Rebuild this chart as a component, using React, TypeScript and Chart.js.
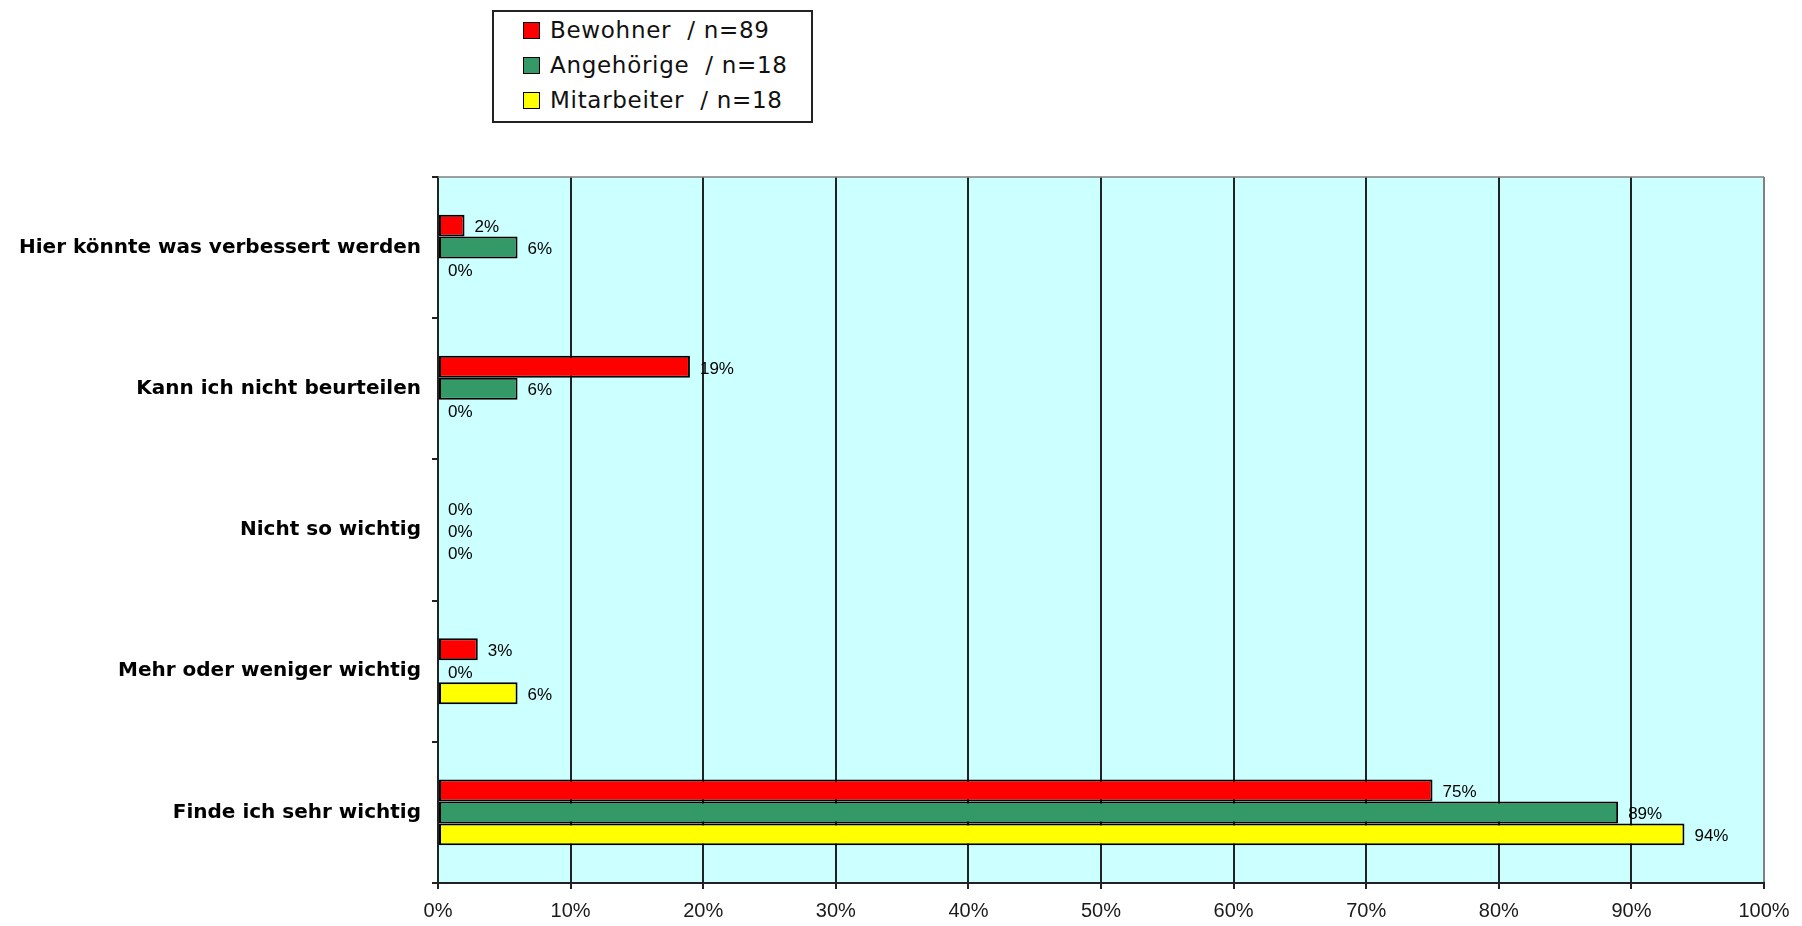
import React, { useEffect, useRef } from "react";
import { Chart, registerables } from "chart.js";

Chart.register(...registerables);

const categories = [
  "Hier könnte was verbessert werden",
  "Kann ich nicht beurteilen",
  "Nicht so wichtig",
  "Mehr oder weniger wichtig",
  "Finde ich sehr wichtig",
];
const seriesLabels = ["Bewohner  / n=89", "Angehörige  / n=18", "Mitarbeiter  / n=18"];
const bewohner = [2, 19, 0, 3, 75];
const angehoerige = [6, 6, 0, 0, 89];
const mitarbeiter = [0, 0, 0, 6, 94];
const seriesColors = ["#FF0000", "#339966", "#FFFF00"];
const xMin = 0;
const xMax = 100;
const xStep = 10;

const plotBgPlugin = {
  id: "plotBg",
  beforeDraw(chart: any) {
    const { ctx, chartArea: a } = chart;
    ctx.save();
    ctx.fillStyle = "#CCFFFF";
    ctx.fillRect(a.left, a.top, a.right - a.left, a.bottom - a.top);
    ctx.restore();
  },
  afterDraw(chart: any) {
    const { ctx, chartArea: a } = chart;
    ctx.save();
    ctx.strokeStyle = "#808080";
    ctx.lineWidth = 1.5;
    ctx.beginPath();
    ctx.moveTo(a.left, a.top);
    ctx.lineTo(a.right, a.top);
    ctx.stroke();
    ctx.restore();
  },
};

const valueLabelPlugin = {
  id: "valueLabels",
  afterDatasetsDraw(chart: any) {
    const { ctx } = chart;
    ctx.save();
    ctx.font = "17px 'Liberation Sans', Arial, sans-serif";
    ctx.fillStyle = "#000";
    ctx.textAlign = "left";
    ctx.textBaseline = "middle";
    chart.data.datasets.forEach((ds: any, di: number) => {
      const meta = chart.getDatasetMeta(di);
      meta.data.forEach((el: any, i: number) => {
        const v = ds.data[i];
        ctx.fillText(`${v}%`, el.x + 10, el.y + 2);
      });
    });
    ctx.restore();
  },
};

export default function App() {
  const canvasRef = useRef<HTMLCanvasElement | null>(null);

  useEffect(() => {
    if (!canvasRef.current) return;
    const chart = new Chart(canvasRef.current, {
      type: "bar",
      data: {
        labels: categories,
        datasets: [bewohner, angehoerige, mitarbeiter].map((d, i) => ({
          label: seriesLabels[i],
          data: d,
          backgroundColor: seriesColors[i],
          borderColor: "#000",
          borderWidth: 2,
          borderSkipped: false,
          categoryPercentage: 0.467,
          barPercentage: 1.0,
        })),
      },
      options: {
        indexAxis: "y",
        responsive: false,
        animation: false,
        layout: { padding: { top: 177, right: 38, bottom: 0, left: 0 } },
        plugins: {
          legend: { display: false },
          tooltip: { enabled: false },
        },
        scales: {
          x: {
            min: xMin,
            max: xMax,
            ticks: {
              stepSize: xStep,
              callback: (v: any) => `${v}%`,
              color: "#1a1a1a",
              font: { family: "'Liberation Sans', Arial, sans-serif", size: 20 },
              padding: 10,
              maxRotation: 0,
            },
            grid: {
              color: (c: any) => (c.tick && c.tick.value === xMax ? "#808080" : "#222"),
              lineWidth: 2,
              tickLength: 6,
              tickColor: "#222",
            },
            border: { color: "#222", width: 2 },
            afterFit(scale: any) {
              scale.height = 43;
            },
          },
          y: {
            grid: {
              drawOnChartArea: false,
              drawTicks: true,
              tickLength: 6,
              color: "#222",
              lineWidth: 2,
              offset: true,
            },
            border: { color: "#222", width: 2 },
            ticks: {
              color: "#000",
              font: { family: "'DejaVu Sans', sans-serif", size: 20, weight: "bold" },
              padding: 11,
            },
            afterFit(scale: any) {
              scale.width = 438;
            },
          },
        },
      },
      plugins: [plotBgPlugin, valueLabelPlugin],
    } as any);
    return () => chart.destroy();
  }, []);

  const rowTops = [30, 65, 100];

  return (
    <div style={{ position: "fixed", left: 0, top: 0, width: 1802, height: 926, background: "#fff" }}>
      <canvas ref={canvasRef} width={1802} height={926} style={{ display: "block", width: 1802, height: 926 }} />
      <div
        style={{
          position: "absolute",
          left: 492,
          top: 10,
          width: 321,
          height: 113,
          boxSizing: "border-box",
          border: "2px solid #222",
          background: "#fff",
        }}
      />
      {seriesLabels.map((lab, i) => (
        <div key={lab} style={{ position: "absolute", left: 523, top: rowTops[i] - 14, height: 28, display: "flex", alignItems: "center" }}>
          <span
            style={{
              display: "inline-block",
              width: 17,
              height: 17,
              boxSizing: "border-box",
              border: "1.5px solid #000",
              background: seriesColors[i],
              marginRight: 10,
            }}
          />
          <span
            style={{
              fontFamily: "'DejaVu Sans', sans-serif",
              fontSize: 23,
              letterSpacing: 0.7,
              color: "#111",
              whiteSpace: "pre",
              lineHeight: "28px",
            }}
          >
            {lab}
          </span>
        </div>
      ))}
    </div>
  );
}
